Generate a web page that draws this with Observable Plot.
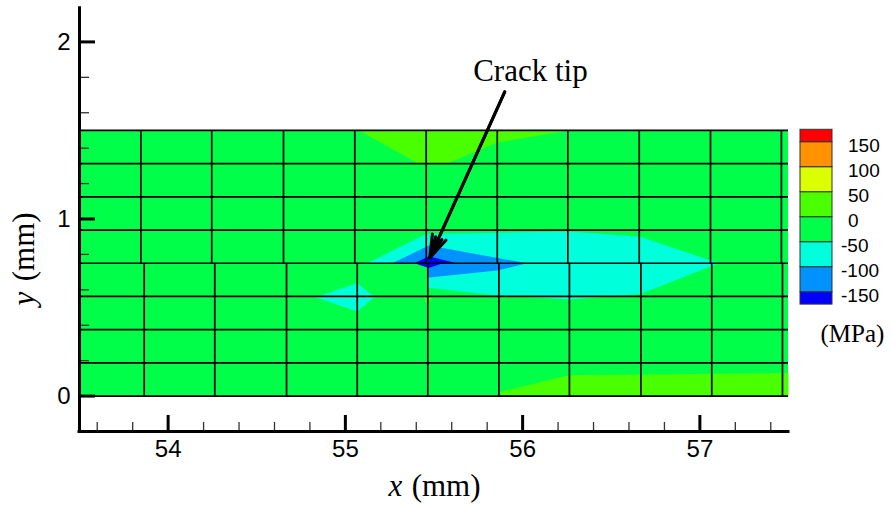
<!DOCTYPE html>
<html>
<head>
<meta charset="utf-8">
<script src="https://cdn.jsdelivr.net/npm/d3@7"></script>
<script src="https://cdn.jsdelivr.net/npm/@observablehq/plot@0.6"></script>
<style>
  body { margin: 0; background: #fff; }
  #chart svg { display: block; }
</style>
</head>
<body>
<div id="chart"></div>
<script>
// ---------- data ----------
const xTicks = [54, 55, 56, 57];
const xMinor = [53.6, 53.8, 54.2, 54.4, 54.6, 54.8, 55.2, 55.4, 55.6, 55.8, 56.2, 56.4, 56.6, 56.8, 57.2, 57.4];
const yTicks = [0, 1, 2];
const yMinor = [0.2, 0.4, 0.6, 0.8, 1.2, 1.4, 1.6, 1.8];

const levels = [-150, -100, -50, 0, 50, 100, 150];
const bandNames = ["<-150", "-150..-100", "-100..-50", "-50..0", "0..50", "50..100", "100..150", ">150"];
const bandColors = ["#0000ff", "#0092ff", "#00ffdb", "#00ff49", "#49ff00", "#dbff00", "#ff9200", "#ff0000"];

const meshRowY = [0, 0.1875, 0.375, 0.5625, 0.75, 0.9375, 1.125, 1.3125, 1.5];
const meshColUpper = [53.846, 54.246, 54.651, 55.053, 55.456, 55.857, 56.255, 56.658, 57.06, 57.46];
const meshColLower = [53.865, 54.263, 54.668, 55.067, 55.465, 55.866, 56.264, 56.667, 57.067, 57.466];
const meshBox = [{x1: 53.5, x2: 57.5, y1: 0, y2: 1.5, band: "-50..0"}];

// contour band regions (vertices in mm)
const topPositive = [[55.076, 1.5], [55.414, 1.3125], [55.574, 1.3125], [55.857, 1.432], [56.232, 1.494], [56.232, 1.5]];
const bottomPositive = [[55.866, 0], [55.866, 0.022], [56.26, 0.117], [57.5, 0.13], [57.5, 0]];
const cyanUpper = [[55.123, 0.75], [55.452, 0.916], [56.26, 0.93], [56.665, 0.9], [57.107, 0.75]];
const cyanLower = [[55.462, 0.75], [55.462, 0.612], [55.857, 0.568], [56.26, 0.545], [56.665, 0.577], [57.107, 0.75]];
const cyanDiamond = [[54.831, 0.558], [55.067, 0.639], [55.164, 0.558], [55.067, 0.478]];
const smallPositive = [[55.439, 0.5625], [55.496, 0.5625], [55.462, 0.511]];
const blueUpper = [[55.264, 0.75], [55.471, 0.85], [56.026, 0.75]];
const blueLower = [[55.462, 0.75], [55.462, 0.668], [55.857, 0.709], [56.026, 0.75]];
const darkUpper = [[55.39, 0.75], [55.471, 0.79], [55.627, 0.75]];
const darkLower = [[55.39, 0.75], [55.47, 0.723], [55.55, 0.75]];

const regions = [
  {band: "0..50", pts: topPositive},
  {band: "0..50", pts: bottomPositive},
  {band: "-100..-50", pts: cyanUpper},
  {band: "-100..-50", pts: cyanLower},
  {band: "-100..-50", pts: cyanDiamond},
  {band: "0..50", pts: smallPositive},
  {band: "-150..-100", pts: blueUpper},
  {band: "-150..-100", pts: blueLower},
  {band: "<-150", pts: darkUpper},
  {band: "<-150", pts: darkLower}
];

const annotation = [{label: "Crack tip", x: 56.044, y: 1.78, fromX: 55.899, fromY: 1.718, tipX: 55.476, tipY: 0.78}];

// ---------- build ----------
const regionRows = regions.flatMap((r, i) => r.pts.map(([x, y]) => ({id: i, band: r.band, x, y})));

const W = 892, H = 508, mL = 79, mR = 104, mT = 6, mB = 77;
const frameW = W - mL - mR, frameH = H - mT - mB;
const serif = "'Liberation Serif', 'Times New Roman', serif";
const sans = "'Liberation Sans', Arial, sans-serif";

const plot = Plot.plot({
  width: W, height: H,
  marginLeft: mL, marginRight: mR, marginTop: mT, marginBottom: mB,
  x: {domain: [53.5, 57.5], axis: null},
  y: {domain: [-0.2, 2.2], axis: null},
  color: {domain: bandNames, range: bandColors},
  style: {fontFamily: sans, background: "#fff", color: "#000"},
  marks: [
    Plot.rect(meshBox, {x1: "x1", x2: "x2", y1: "y1", y2: "y2", fill: "band"}),
    Plot.line(regionRows, {x: "x", y: "y", z: "id", fill: "band", stroke: "none"}),
    Plot.ruleY(meshRowY, {x1: 53.5, x2: 57.5, stroke: "#000", strokeWidth: 1.7}),
    Plot.ruleX(meshColUpper, {y1: 0.75, y2: 1.5, stroke: "#000", strokeWidth: 1.7}),
    Plot.ruleX(meshColLower, {y1: 0, y2: 0.75, stroke: "#000", strokeWidth: 1.7}),
    // arrow
    Plot.arrow(annotation, {x1: "fromX", y1: "fromY", x2: "tipX", y2: "tipY", stroke: "#000", strokeWidth: 3, headAngle: 36, headLength: 12}),
    Plot.arrow(annotation, {x1: "fromX", y1: "fromY", x2: "tipX", y2: "tipY", stroke: "#000", strokeWidth: 3, headAngle: 18, headLength: 11}),
    Plot.text(annotation, {x: "x", y: "y", text: "label", fontFamily: serif, fontSize: 31, lineAnchor: "bottom", fill: "#000"}),
    // ticks
    Plot.tickX(xMinor, {x: d => d, insetTop: frameH - 9, stroke: "#333", strokeWidth: 1.3}),
    Plot.tickX(xTicks, {x: d => d, insetTop: frameH - 16, stroke: "#000", strokeWidth: 3}),
    Plot.tickY(yMinor, {y: d => d, insetRight: frameW - 10, stroke: "#333", strokeWidth: 1.3}),
    Plot.tickY(yTicks, {y: d => d, insetRight: frameW - 16, stroke: "#000", strokeWidth: 3}),
    // axis lines
    Plot.ruleX([53.5], {y1: -0.2, y2: 2.19, stroke: "#000", strokeWidth: 3, strokeLinecap: "square"}),
    Plot.ruleY([-0.2], {x1: 53.5, x2: 57.5, stroke: "#000", strokeWidth: 3, strokeLinecap: "square"}),
    // tick labels
    Plot.text(xTicks, {x: d => d, text: d => String(d), frameAnchor: "bottom", lineAnchor: "middle", dy: 18, fontSize: 24, fill: "#000"}),
    Plot.text(yTicks, {y: d => d, text: d => String(d), frameAnchor: "left", textAnchor: "end", lineAnchor: "middle", dx: -9, fontSize: 24, fill: "#000"}),
    // axis titles
    Plot.text(["x"], {text: d => d, frameAnchor: "bottom", textAnchor: "start", lineAnchor: "bottom", dx: -45.5, dy: 64, fontFamily: serif, fontStyle: "italic", fontSize: 31, fill: "#000"}),
    Plot.text(["(mm)"], {text: d => d, frameAnchor: "bottom", textAnchor: "end", lineAnchor: "bottom", dx: 46.5, dy: 64, fontFamily: serif, fontSize: 31, fill: "#000"}),
    Plot.text(["y"], {text: d => d, x: [53.5], y: [0.511], rotate: -90, textAnchor: "start", lineAnchor: "bottom", dx: -45.5, fontFamily: serif, fontStyle: "italic", fontSize: 31, fill: "#000"}),
    Plot.text(["(mm)"], {text: d => d, x: [53.5], y: [1.0375], rotate: -90, textAnchor: "end", lineAnchor: "bottom", dx: -45.5, fontFamily: serif, fontSize: 31, fill: "#000"})
  ]
});

// ---------- legend (contour levels) ----------
const svg = d3.select(plot);
const lg = svg.append("g").attr("text-anchor", "start");
const boxX = 800, boxW = 32, step = 25, firstBoundary = 141.7, endBox = 12.4;
const boundaryY = L => firstBoundary + (150 - L) / 50 * step;
bandColors.forEach((c, k) => {
  const top = k === bandColors.length - 1 ? boundaryY(levels[levels.length - 1]) - endBox : boundaryY(levels[k]);
  const bottom = k === 0 ? boundaryY(levels[0]) + endBox : boundaryY(levels[k - 1]);
  lg.append("rect")
    .attr("x", boxX).attr("y", top)
    .attr("width", boxW).attr("height", bottom - top)
    .attr("fill", c).attr("stroke", "#333").attr("stroke-width", 1);
});
levels.forEach(L => {
  lg.append("text")
    .attr("x", L < 0 ? 841 : 848)
    .attr("y", boundaryY(L) + 4)
    .attr("dy", "0.35em")
    .attr("text-anchor", "start")
    .attr("font-family", sans)
    .attr("font-size", 19)
    .attr("fill", "#000")
    .text(String(L));
});
lg.append("text")
  .attr("x", 852.5).attr("y", 333).attr("dy", "0.35em")
  .attr("text-anchor", "middle")
  .attr("font-family", serif).attr("font-size", 25).attr("fill", "#000")
  .text("(MPa)");

document.getElementById("chart").appendChild(plot);
</script>
</body>
</html>
